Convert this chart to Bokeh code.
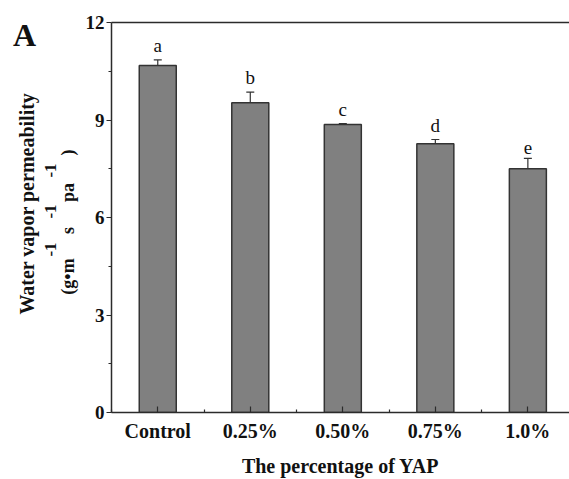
import math
from bokeh.plotting import figure
from bokeh.layouts import row
from bokeh.models import (ColumnDataSource, Whisker, TeeHead, FixedTicker, LinearAxis,
                          Label, Range1d)
from bokeh.core.properties import value
from bokeh.embed import file_html
from bokeh.resources import INLINE

# ---- data ----
categories = ["Control", "0.25%", "0.50%", "0.75%", "1.0%"]
wvp = [10.68, 9.53, 8.86, 8.27, 7.50]
wvp_err = [0.17, 0.33, 0.03, 0.13, 0.32]
letters = ["a", "b", "c", "d", "e"]
y_ticks = [0, 3, 6, 9, 12]

# ---- layout ----
W, H = 569, 479
LW = 82                      # width of the title strip on the left
FL, FT, FB = 109, 22, 412    # frame edges in the page
X0, X1 = -0.5, 4.45
Y0, Y1 = 0, 12
FONT = "Liberation Serif"
AX = "#2b2b2b"

# ---- left strip holding the rotated y title and the panel letter ----
# (its frame is aligned with the main frame by the row, so its y range maps page pixels)
t = figure(width=LW, height=H, output_backend="svg", toolbar_location=None,
           x_range=Range1d(0, LW), y_range=Range1d(FB, FT),
           min_border=0, min_border_left=0, min_border_right=0,
           min_border_top=FT, min_border_bottom=H - FB)
t.axis.visible = False
t.grid.visible = False
t.outline_line_color = None
t.background_fill_color = "white"
t.border_fill_color = "white"

def lab(text, px, py, size, bold=True, angle=math.pi / 2):
    t.add_layout(Label(x=px, y=py, text=text, angle=angle,
                       text_align="center", text_baseline="middle",
                       text_font=FONT, text_font_style="bold" if bold else "normal",
                       text_font_size=size, text_color="#111111"))

lab("Water vapor permeability", 26, 203, "20px")
lab("(g\u2022m", 67, 276, "18px")
lab("-1", 50, 249, "17px")
lab("s", 67, 230, "18px")
lab("-1", 50, 211, "17px")
lab("pa", 67, 192, "18px")
lab("-1", 50, 170, "17px")
lab(")", 67, 152, "18px")
lab("A", 24, 34, "32px", angle=0)

# ---- main chart ----
p = figure(width=W - LW, height=H, output_backend="svg", toolbar_location=None,
           x_range=Range1d(X0, X1), y_range=Range1d(Y0, Y1),
           min_border_left=FL - LW, min_border_right=0, min_border_top=FT,
           min_border_bottom=H - FB)
p.outline_line_color = None
p.grid.visible = False
p.background_fill_color = "white"
p.border_fill_color = "white"

xs = list(range(len(categories)))
upper = [v + e for v, e in zip(wvp, wvp_err)]
lower = [v - e for v, e in zip(wvp, wvp_err)]
src = ColumnDataSource(dict(x=xs, v=wvp, up=upper, lo=lower, lab=letters))

p.vbar(x="x", top="v", width=0.4, bottom=0, source=src,
       fill_color="#808080", line_color="#333333", line_width=1.5)

wh = Whisker(base="x", upper="up", lower="lo", source=src,
             line_color="#333333", line_width=1.2,
             upper_head=TeeHead(size=8, line_color="#333333", line_width=1.2),
             lower_head=TeeHead(size=8, line_color="#333333", line_width=1.2))
p.add_layout(wh)

p.text(x="x", y="up", text="lab", source=src, text_align="center",
       text_baseline="bottom", y_offset=-4, text_font=value(FONT),
       text_font_size="19px", text_color="#111111")

# x axis
xa = p.xaxis[0]
xa.ticker = FixedTicker(ticks=xs, minor_ticks=[i + 0.5 for i in range(-1, len(xs))])
xa.major_label_overrides = {i: c for i, c in enumerate(categories)}
xa.major_tick_in = 6
xa.major_tick_out = 0
xa.minor_tick_in = 3
xa.minor_tick_out = 0
xa.major_label_standoff = 7
xa.axis_label = "The percentage of YAP"
xa.axis_label_standoff = 10
xa.major_label_text_font = FONT
xa.major_label_text_font_style = "bold"
xa.major_label_text_font_size = "20px"
xa.major_label_text_color = "#111111"
xa.axis_label_text_font = FONT
xa.axis_label_text_font_style = "bold"
xa.axis_label_text_font_size = "20px"
xa.axis_label_text_color = "#111111"

# y axis
ya = p.yaxis[0]
ya.ticker = FixedTicker(ticks=y_ticks, minor_ticks=[1.5, 4.5, 7.5, 10.5])
ya.major_tick_out = 5
ya.major_tick_in = 0
ya.minor_tick_out = 3
ya.minor_tick_in = 0
ya.major_label_standoff = 2
ya.major_label_text_font = FONT
ya.major_label_text_font_style = "bold"
ya.major_label_text_font_size = "19px"
ya.major_label_text_color = "#111111"

for a in (xa, ya):
    a.axis_line_color = AX
    a.axis_line_width = 1.5
    a.major_tick_line_color = AX
    a.minor_tick_line_color = AX
    a.major_tick_line_width = 1.2
    a.minor_tick_line_width = 1.2

# top border
top = LinearAxis(ticker=FixedTicker(ticks=[]), axis_line_color=AX, axis_line_width=1.5,
                 major_tick_line_color=None, minor_tick_line_color=None,
                 major_label_text_font_size="0px")
p.add_layout(top, "above")

layout = row(t, p, spacing=0)
open("out.html", "w").write(file_html(layout, INLINE))
